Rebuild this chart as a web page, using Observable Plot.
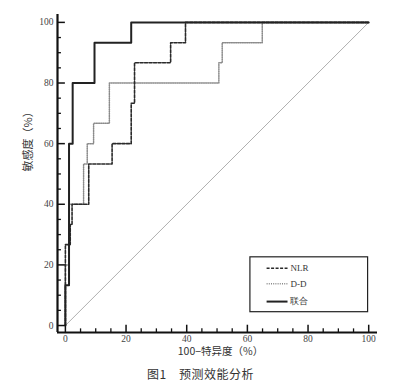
<!DOCTYPE html>
<html>
<head>
<meta charset="utf-8">
<script src="https://cdn.jsdelivr.net/npm/d3@7"></script>
<script src="https://cdn.jsdelivr.net/npm/@observablehq/plot@0.6"></script>
<style>
  body { margin: 0; background: #fff; }
  #chart { width: 401px; }
  #caption { font-family: "Noto Sans CJK SC", sans-serif; font-size: 12px; color: #333; text-align: center; width: 401px; margin-top: 2px; letter-spacing: 0.5px; }
</style>
</head>
<body>
<div id="chart"></div>
<div id="caption">图1　预测效能分析</div>
<script>
// ROC step curves (x = 100 − specificity, y = sensitivity, %)
const nlrFpr  = [0, 0, 1.6, 1.6, 2.2, 2.2, 7.7, 7.7, 15.4, 15.4, 21.7, 21.7, 22.8, 22.8, 34.7, 34.7, 39.6, 39.6, 100];
const nlrTpr  = [0, 26.7, 26.7, 33.3, 33.3, 40, 40, 53.3, 53.3, 60, 60, 73.3, 73.3, 86.7, 86.7, 93.3, 93.3, 100, 100];
const ddFpr   = [0, 0, 1.2, 1.2, 6.0, 6.0, 7.2, 7.2, 9.3, 9.3, 14.5, 14.5, 50.6, 50.6, 51.7, 51.7, 64.9, 64.9, 100];
const ddTpr   = [0, 20, 20, 40, 40, 53.3, 53.3, 60, 60, 66.7, 66.7, 80, 80, 86.7, 86.7, 93.3, 93.3, 100, 100];
const combFpr = [0, 0, 1.2, 1.2, 2.4, 2.4, 9.6, 9.6, 21.7, 21.7, 100];
const combTpr = [0, 13.3, 13.3, 60, 60, 80, 80, 93.3, 93.3, 100, 100];
const diagonal = [0, 100];

const majorTicks = [0, 20, 40, 60, 80, 100];
const minorTicks = [5, 10, 15, 25, 30, 35, 45, 50, 55, 65, 70, 75, 85, 90, 95];

const seriesNames = ["NLR", "D-D", "联合"];

const xMin = -2.6, xMax = 102.9, yMin = -2.3, yMax = 102.6;

const toPts = (xs, ys) => xs.map((x, i) => ({x, y: ys[i]}));
const nlr = toPts(nlrFpr, nlrTpr);
const dd = toPts(ddFpr, ddTpr);
const comb = toPts(combFpr, combTpr);

// legend placement in data units
const legBox = {x1: 61, x2: 99.8, y1: 4.4, y2: 22.5};
const legRows = [18.9, 13.8, 7.9];
const legendData = seriesNames.map((name, i) => ({name, y: legRows[i]}));
const styles = [
  {stroke: "#2a2a2a", strokeWidth: 1.6, strokeDasharray: "3,1.5"},
  {stroke: "#8a8a8a", strokeWidth: 1.5, strokeDasharray: "1,1.2"},
  {stroke: "#222", strokeWidth: 2, strokeDasharray: null}
];

const serif = "'Liberation Serif', 'DejaVu Serif', serif";
const cjk = "'Noto Sans CJK SC', sans-serif";

const chart = Plot.plot({
  width: 401,
  height: 363,
  marginLeft: 57,
  marginRight: 24,
  marginTop: 14,
  marginBottom: 31,
  style: {fontFamily: serif, fontSize: "10px", color: "#333", background: "#fff"},
  x: {domain: [xMin, xMax], axis: null},
  y: {domain: [yMin, yMax], axis: null},
  marks: [
    // diagonal reference
    Plot.line(diagonal.map(v => ({x: v, y: v})), {x: "x", y: "y", stroke: "#b0b0b0", strokeWidth: 1}),
    // curves
    Plot.line(dd, {x: "x", y: "y", ...styles[1]}),
    Plot.line(nlr, {x: "x", y: "y", ...styles[0]}),
    Plot.line(comb, {x: "x", y: "y", ...styles[2]}),
    // axes lines
    Plot.ruleY([yMin], {x1: xMin, x2: xMax, stroke: "#111", strokeWidth: 2.2}),
    Plot.ruleX([xMin], {y1: yMin, y2: yMax, stroke: "#111", strokeWidth: 2.2}),
    // x ticks (inward)
    Plot.ruleX(majorTicks, {x: d => d, y1: yMin, y2: yMin + 2.4, stroke: "#111", strokeWidth: 1.5}),
    Plot.ruleX(minorTicks, {x: d => d, y1: yMin, y2: yMin + 1.2, stroke: "#111", strokeWidth: 1.3}),
    // y ticks (inward)
    Plot.ruleY(majorTicks, {y: d => d, x1: xMin, x2: xMin + 2.6, stroke: "#111", strokeWidth: 1.5}),
    Plot.ruleY(minorTicks, {y: d => d, x1: xMin, x2: xMin + 1.3, stroke: "#111", strokeWidth: 1.3}),
    // tick labels
    Plot.text(majorTicks, {x: d => d, y: yMin, text: d => String(d), dy: 6, fill: "#444", fontSize: 9.5, fontFamily: serif}),
    Plot.text(majorTicks, {x: xMin, y: d => d, text: d => String(d), dx: -4, textAnchor: "end", fill: "#444", fontSize: 9.5, fontFamily: serif}),
    // axis titles
    Plot.text(["100−特异度（%）"], {frameAnchor: "bottom", dy: 22, dx: 3, text: d => d, fontSize: 10.5, fontFamily: cjk, fill: "#333"}),
    Plot.text(["敏感度（%）"], {frameAnchor: "left", dx: -29, dy: -2, rotate: -90, text: d => d, fontSize: 11, fontFamily: cjk, fill: "#333"}),
    // legend box
    Plot.rect([legBox], {x1: "x1", x2: "x2", y1: "y1", y2: "y2", fill: "#fff", stroke: "#222", strokeWidth: 1.2}),
    ...legendData.map((d, i) => Plot.ruleY([d], {y: "y", x1: 66.5, x2: 73.4, ...styles[i]})),
    Plot.text(legendData, {x: 74.2, y: "y", text: "name", textAnchor: "start", fontSize: 9, fill: "#333",
      fontFamily: d => d.name === "联合" ? cjk : serif})
  ]
});
document.getElementById("chart").appendChild(chart);
</script>
</body>
</html>
